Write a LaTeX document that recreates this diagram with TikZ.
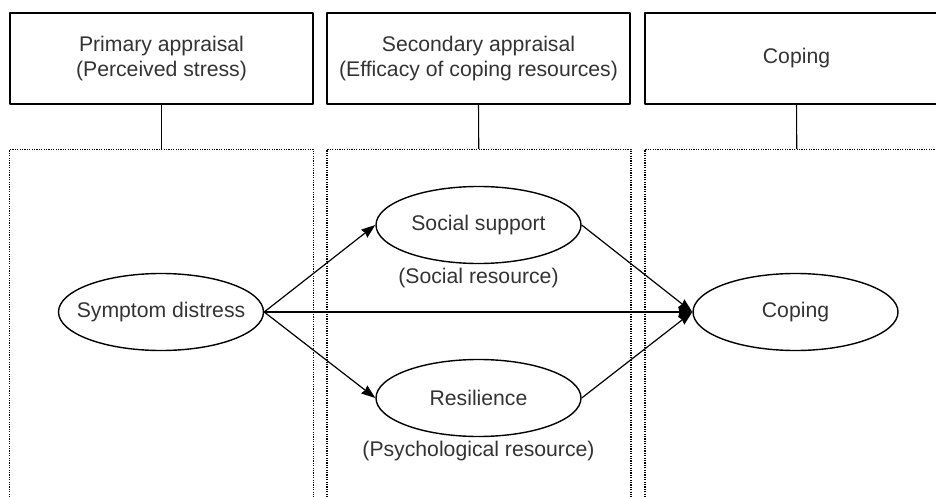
\documentclass[tikz,border=0pt]{standalone}
\usepackage{fontspec}
\setmainfont{Liberation Sans}
\usetikzlibrary{positioning,shapes.geometric,arrows.meta}
\tikzset{
  head/.style={draw,line width=0.8pt,minimum width=151.5pt,minimum height=45.5pt,inner sep=0pt,align=center},
  panel/.style={draw,dash pattern=on 0.6pt off 0.6pt,line width=0.6pt,minimum width=152pt,minimum height=190pt,inner sep=0pt,anchor=north},
  var/.style={draw,ellipse,line width=0.7pt,minimum width=102.5pt,minimum height=38.5pt,inner ysep=0pt,inner xsep=-15pt},
  resname/.style={inner sep=2pt}
}
\begin{document}
\begin{tikzpicture}[x=0.5pt,y=-0.5pt,>={Stealth[length=7pt,width=5pt,inset=0.6pt]},line join=round,font=\fontsize{10.6}{12.3}\selectfont,text=black!80]
  \useasboundingbox (0,0) rectangle (936,497);
  \clip (0,0) rectangle (936,497);
  % appraisal headings
  \node[head] (primary) at (161.5,58.5) {Primary appraisal\\(Perceived stress)};
  \node[head] (secondary) at (478.5,58.5) {Secondary appraisal\\(Efficacy of coping resources)};
  \node[head] (coping) at (796.5,58.5) {Coping};
  % dotted panels
  \node[panel] (pan1) at (161.5,149) {};
  \node[panel] (pan2) at (479,149) {};
  \node[panel] (pan3) at (797,149) {};
  \foreach \a/\b in {primary/pan1,secondary/pan2,coping/pan3}{\draw[line width=0.6pt] (\a) -- (\b);}
  % variables
  \node[var] (sd) at (161,312) {Symptom distress};
  \node[var] (ss) at (478.5,225) {Social support};
  \node[var] (rs) at (478.5,398) {Resilience};
  \node[var] (cp) at (795.5,312) {Coping};
  \node[resname,below=0pt of ss] (ssr) {(Social resource)};
  \node[resname,below=0pt of rs] (rsr) {(Psychological resource)};
  \foreach \a/\b in {sd/ss,sd/rs,sd/cp,ss/cp,rs/cp}{\draw[->,line width=0.6pt] (\a.east) -- (\b.west);}
\end{tikzpicture}
\end{document}
